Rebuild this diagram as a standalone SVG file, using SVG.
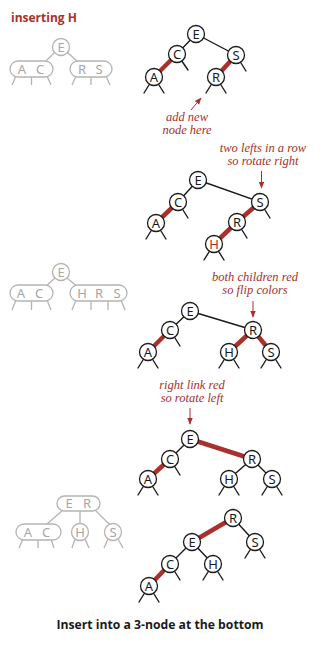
<svg xmlns="http://www.w3.org/2000/svg" width="331" height="647" viewBox="0 0 331 647">
<style>
  .bk { stroke: #1a1a1a; stroke-width: 1.4; fill: none; stroke-linecap: round; }
  .rd { stroke: #a9302b; stroke-width: 4.5; fill: none; }
  .nd { fill: #ffffff; stroke: #1a1a1a; stroke-width: 1.3; }
  .lb { font-family: "Noto Sans", "Open Sans", sans-serif; font-size: 13px; fill: #1a1a1a; text-anchor: middle; }
  .lbr { fill: #a9302b; }
  .gy { stroke: #b4b4b4; stroke-width: 1.3; fill: none; }
  .gn { fill: #ffffff; stroke: #b4b4b4; stroke-width: 1.3; }
  .gl { font-family: "Noto Sans", "Open Sans", sans-serif; font-size: 13px; fill: #a6a6a6; text-anchor: middle; }
  .nt { font-family: "Liberation Serif", serif; font-style: italic; font-size: 12.5px; fill: #a9302b; text-anchor: middle; }
  .ar { stroke: #a9302b; stroke-width: 1; fill: none; }
</style>
<defs>
  <marker id="ah" viewBox="0 0 10 10" refX="9" refY="5" markerWidth="7" markerHeight="7" orient="auto" markerUnits="userSpaceOnUse">
    <path d="M0,1 L10,5 L0,9 z" fill="#a9302b"/>
  </marker>
</defs>

<text x="11" y="22" font-family="'Open Sans', 'Noto Sans', sans-serif" font-weight="bold" font-size="12" fill="#a9302b">inserting H</text>

<!-- 2-3 tree before insertion -->
<g id="g1">
  <line class="gy" x1="55" y1="52" x2="45" y2="62"/>
  <line class="gy" x1="67" y1="52" x2="78" y2="62"/>
  <path class="gy" d="M16,76 L12,85 M31.5,77 L31.5,85 M47,76 L51,85 M76,76 L72,85 M91,77 L91,85 M106,76 L110,85"/>
  <circle class="gn" cx="61" cy="47" r="8.5"/>
  <rect class="gn" x="10" y="61" width="43" height="16" rx="8"/>
  <rect class="gn" x="70" y="61" width="42" height="16" rx="8"/>
  <text class="gl" x="61" y="51.7">E</text>
  <text class="gl" x="22" y="73.7">A</text>
  <text class="gl" x="40" y="73.7">C</text>
  <text class="gl" x="82" y="73.7">R</text>
  <text class="gl" x="99" y="73.7">S</text>
</g>

<!-- 2-3 tree with temporary 4-node -->
<g id="g2">
  <line class="gy" x1="55" y1="278" x2="45" y2="287"/>
  <line class="gy" x1="67" y1="278" x2="78" y2="287"/>
  <path class="gy" d="M16,300 L12,310 M31.5,301 L31.5,310 M47,300 L51,310 M76,300 L72,310 M91,301 L91,310 M108,301 L108,310 M121,300 L125,310"/>
  <circle class="gn" cx="61" cy="272" r="8.5"/>
  <rect class="gn" x="10" y="285" width="43" height="16" rx="8"/>
  <rect class="gn" x="70" y="285" width="57" height="16" rx="8"/>
  <text class="gl" x="61" y="276.7">E</text>
  <text class="gl" x="21" y="297.7">A</text>
  <text class="gl" x="39" y="297.7">C</text>
  <text class="gl" x="82" y="297.7">H</text>
  <text class="gl" x="99" y="297.7">R</text>
  <text class="gl" x="117" y="297.7">S</text>
</g>

<!-- 2-3 tree after split -->
<g id="g3">
  <line class="gy" x1="63" y1="510" x2="47" y2="524"/>
  <line class="gy" x1="80" y1="511" x2="80" y2="524"/>
  <line class="gy" x1="95" y1="510" x2="110" y2="525"/>
  <path class="gy" d="M23,539 L19,548 M38,540 L38,548 M51,539 L54,548 M75,539 L72,548 M85,539 L89,548 M108,539 L104,548 M118,539 L123,548"/>
  <rect class="gn" x="57" y="496" width="43" height="15" rx="7.5"/>
  <rect class="gn" x="16" y="524" width="45" height="16" rx="8"/>
  <circle class="gn" cx="80" cy="532" r="8.5"/>
  <circle class="gn" cx="113" cy="532" r="8.5"/>
  <text class="gl" x="69" y="508.2">E</text>
  <text class="gl" x="87" y="508.2">R</text>
  <text class="gl" x="28" y="536.7">A</text>
  <text class="gl" x="46" y="536.7">C</text>
  <text class="gl" x="80" y="536.7">H</text>
  <text class="gl" x="113" y="536.7">S</text>
</g>

<!-- connectors -->
<g id="links">
  <!-- tree 1 -->
  <line class="bk" x1="196" y1="34" x2="177" y2="54"/>
  <line class="bk" x1="196" y1="34" x2="236" y2="55"/>
  <line class="rd" x1="177" y1="54" x2="154" y2="77"/>
  <line class="rd" x1="236" y1="55" x2="216" y2="77"/>
  <path class="bk" d="M177,54 L188,70 M236,55 L246,71 M154,77 L144,93 M154,77 L164,93 M216,77 L206,93 M216,77 L226,93"/>
  <line class="ar" x1="191" y1="110" x2="201" y2="98" marker-end="url(#ah)"/>

  <!-- tree 2 -->
  <line class="bk" x1="198" y1="180" x2="178" y2="202"/>
  <line class="bk" x1="198" y1="180" x2="260" y2="202"/>
  <line class="rd" x1="178" y1="202" x2="156" y2="223"/>
  <line class="rd" x1="260" y1="202" x2="237" y2="222"/>
  <line class="rd" x1="237" y1="222" x2="214" y2="244"/>
  <path class="bk" d="M178,202 L188,218 M260,202 L270,218 M237,222 L247,238 M156,223 L146,239 M156,223 L166,239 M214,244 L204,260 M214,244 L224,260"/>
  <line class="ar" x1="261.5" y1="171" x2="261.5" y2="188" marker-end="url(#ah)"/>

  <!-- tree 3 -->
  <line class="bk" x1="190" y1="311" x2="170" y2="330"/>
  <line class="bk" x1="190" y1="311" x2="253" y2="330"/>
  <line class="rd" x1="170" y1="330" x2="148" y2="352"/>
  <line class="rd" x1="253" y1="330" x2="229" y2="352"/>
  <line class="rd" x1="253" y1="330" x2="271" y2="352"/>
  <path class="bk" d="M170,330 L180,346 M148,352 L138,368 M148,352 L158,368 M229,352 L219,368 M229,352 L239,368 M271,352 L261,368 M271,352 L281,368"/>
  <line class="ar" x1="253" y1="301" x2="253" y2="317" marker-end="url(#ah)"/>

  <!-- tree 4 -->
  <line class="bk" x1="190" y1="439" x2="170" y2="459"/>
  <line class="rd" x1="190" y1="439" x2="252" y2="459"/>
  <line class="rd" x1="170" y1="459" x2="148" y2="479"/>
  <line class="bk" x1="252" y1="459" x2="229" y2="479"/>
  <line class="bk" x1="252" y1="459" x2="272" y2="479"/>
  <path class="bk" d="M170,459 L180,475 M148,479 L138,495 M148,479 L158,495 M229,479 L219,495 M229,479 L239,495 M272,479 L262,495 M272,479 L282,495"/>
  <line class="ar" x1="190" y1="408" x2="190" y2="424" marker-end="url(#ah)"/>

  <!-- tree 5 -->
  <line class="rd" x1="233" y1="518" x2="192" y2="542"/>
  <line class="bk" x1="233" y1="518" x2="255" y2="542"/>
  <line class="bk" x1="192" y1="542" x2="170" y2="564"/>
  <line class="bk" x1="192" y1="542" x2="213" y2="564"/>
  <line class="rd" x1="170" y1="564" x2="149" y2="586"/>
  <path class="bk" d="M255,542 L245,558 M255,542 L265,558 M170,564 L180,580 M213,564 L203,580 M213,564 L223,580 M149,586 L139,602 M149,586 L159,602"/>
</g>

<!-- tree 1 nodes -->
<g id="t1-E"><circle class="nd" cx="196" cy="34" r="8.5"/><text class="lb" x="196" y="38.6">E</text></g>
<g id="t1-C"><circle class="nd" cx="177" cy="54" r="8.5"/><text class="lb" x="177" y="58.6">C</text></g>
<g id="t1-S"><circle class="nd" cx="236" cy="55" r="8.5"/><text class="lb" x="236" y="59.6">S</text></g>
<g id="t1-A"><circle class="nd" cx="154" cy="77" r="8.5"/><text class="lb" x="154" y="81.6">A</text></g>
<g id="t1-R"><circle class="nd" cx="216" cy="77" r="8.5"/><text class="lb" x="216" y="81.6">R</text></g>
<text class="nt" x="187" y="120.5">add new</text>
<text class="nt" x="187" y="134">node here</text>

<!-- tree 2 nodes -->
<text class="nt" x="263" y="151.5">two lefts in a row</text>
<text class="nt" x="263" y="165">so rotate right</text>
<g id="t2-E"><circle class="nd" cx="198" cy="180" r="8.5"/><text class="lb" x="198" y="184.6">E</text></g>
<g id="t2-C"><circle class="nd" cx="178" cy="202" r="8.5"/><text class="lb" x="178" y="206.6">C</text></g>
<g id="t2-S"><circle class="nd" cx="260" cy="202" r="8.5"/><text class="lb" x="260" y="206.6">S</text></g>
<g id="t2-A"><circle class="nd" cx="156" cy="223" r="8.5"/><text class="lb" x="156" y="227.6">A</text></g>
<g id="t2-R"><circle class="nd" cx="237" cy="222" r="8.5"/><text class="lb" x="237" y="226.6">R</text></g>
<g id="t2-H"><circle class="nd" cx="214" cy="244" r="8.5"/><text class="lb lbr" x="214" y="248.6">H</text></g>

<!-- tree 3 nodes -->
<text class="nt" x="255" y="280.5">both children red</text>
<text class="nt" x="255" y="294">so flip colors</text>
<g id="t3-E"><circle class="nd" cx="190" cy="311" r="8.5"/><text class="lb" x="190" y="315.6">E</text></g>
<g id="t3-C"><circle class="nd" cx="170" cy="330" r="8.5"/><text class="lb" x="170" y="334.6">C</text></g>
<g id="t3-R"><circle class="nd" cx="253" cy="330" r="8.5"/><text class="lb" x="253" y="334.6">R</text></g>
<g id="t3-A"><circle class="nd" cx="148" cy="352" r="8.5"/><text class="lb" x="148" y="356.6">A</text></g>
<g id="t3-H"><circle class="nd" cx="229" cy="352" r="8.5"/><text class="lb" x="229" y="356.6">H</text></g>
<g id="t3-S"><circle class="nd" cx="271" cy="352" r="8.5"/><text class="lb" x="271" y="356.6">S</text></g>

<!-- tree 4 nodes -->
<text class="nt" x="192" y="388.5">right link red</text>
<text class="nt" x="192" y="402">so rotate left</text>
<g id="t4-E"><circle class="nd" cx="190" cy="439" r="8.5"/><text class="lb" x="190" y="443.6">E</text></g>
<g id="t4-C"><circle class="nd" cx="170" cy="459" r="8.5"/><text class="lb" x="170" y="463.6">C</text></g>
<g id="t4-R"><circle class="nd" cx="252" cy="459" r="8.5"/><text class="lb" x="252" y="463.6">R</text></g>
<g id="t4-A"><circle class="nd" cx="148" cy="479" r="8.5"/><text class="lb" x="148" y="483.6">A</text></g>
<g id="t4-H"><circle class="nd" cx="229" cy="479" r="8.5"/><text class="lb" x="229" y="483.6">H</text></g>
<g id="t4-S"><circle class="nd" cx="272" cy="479" r="8.5"/><text class="lb" x="272" y="483.6">S</text></g>

<!-- tree 5 nodes -->
<g id="t5-R"><circle class="nd" cx="233" cy="518" r="8.5"/><text class="lb" x="233" y="522.6">R</text></g>
<g id="t5-E"><circle class="nd" cx="192" cy="542" r="8.5"/><text class="lb" x="192" y="546.6">E</text></g>
<g id="t5-S"><circle class="nd" cx="255" cy="542" r="8.5"/><text class="lb" x="255" y="546.6">S</text></g>
<g id="t5-C"><circle class="nd" cx="170" cy="564" r="8.5"/><text class="lb" x="170" y="568.6">C</text></g>
<g id="t5-H"><circle class="nd" cx="213" cy="564" r="8.5"/><text class="lb" x="213" y="568.6">H</text></g>
<g id="t5-A"><circle class="nd" cx="149" cy="586" r="8.5"/><text class="lb" x="149" y="590.6">A</text></g>

<text x="160" y="629" text-anchor="middle" font-family="'Open Sans', 'Noto Sans', sans-serif" font-weight="bold" font-size="12.5" fill="#1a1a1a" textLength="207" lengthAdjust="spacingAndGlyphs">Insert into a 3-node at the bottom</text>
</svg>
